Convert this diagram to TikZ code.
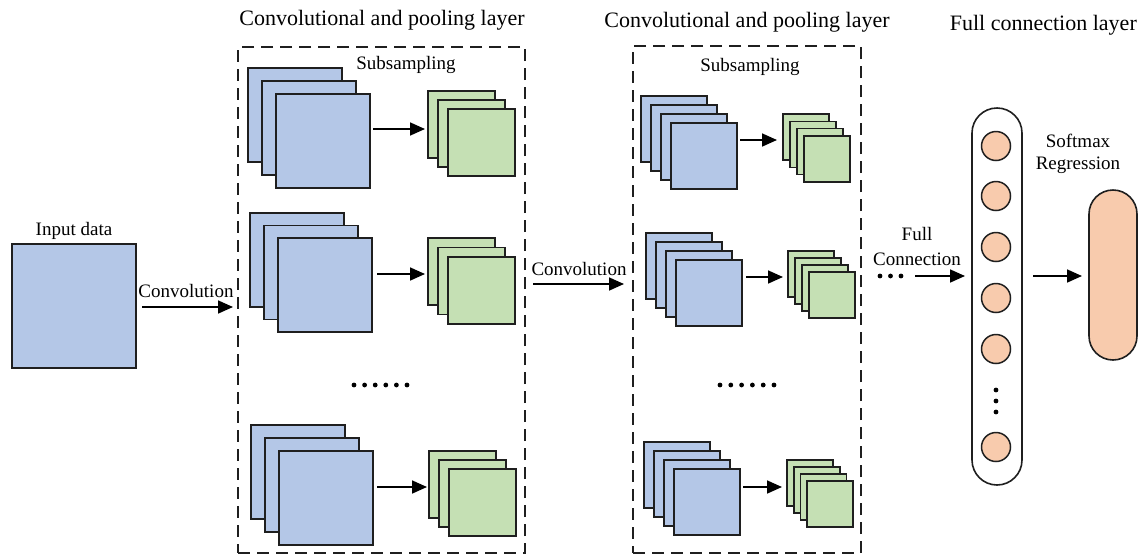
\documentclass[tikz,border=0pt]{standalone}
\usepackage{fontspec}
\setmainfont{Liberation Serif}
\usetikzlibrary{arrows.meta,calc}
\definecolor{bluef}{HTML}{B4C7E7}
\definecolor{greenf}{HTML}{C5E0B4}
\definecolor{orangef}{HTML}{F8CBAD}
\definecolor{edge}{HTML}{1F1F1F}
\begin{document}
\begin{tikzpicture}[x=1pt,y=-1pt,
  sq/.style={draw=edge, line width=1.6pt, anchor=north west, inner sep=0pt, outer sep=0pt, rectangle},
  bsq/.style={sq, fill=bluef},
  gsq/.style={sq, fill=greenf},
  arr/.style={line width=1.7pt, draw=black, -{Triangle[length=15pt,width=13pt]}},
  lbl/.style={font=\fontsize{19}{22}\selectfont, inner sep=0pt, align=center},
  ttl/.style={font=\fontsize{22}{25}\selectfont, inner sep=0pt},
  dbox/.style={draw=edge, line width=2.6pt, dash pattern=on 12pt off 7pt, rectangle, anchor=north west, inner sep=0pt, outer sep=0pt},
  neuron/.style={circle, draw=edge, line width=1.5pt, fill=orangef, minimum size=29pt, inner sep=0pt},
  dot/.style={circle, fill=black, inner sep=0pt, minimum size=4.8pt}
]
\useasboundingbox (0,0) rectangle (1138,555);

% titles
\node[ttl] (t1) at (382,20) {Convolutional and pooling layer};
\node[ttl] (t2) at (747,22) {Convolutional and pooling layer};
\node[ttl, anchor=east] (t3) at (1137,25) {Full connection layer};

% dashed boxes
\node[dbox, minimum width=287pt, minimum height=506pt] (L1) at (238,47) {};
\node[dbox, minimum width=228pt, minimum height=507pt] (L2) at (633,46) {};

% input
\node[lbl] (inlbl) at (74,231) {Input data};
\node[bsq, minimum size=124pt] (in) at (12,244) {};
\node[lbl] (conv1) at (186,291) {Convolution};
\draw[arr, shorten <=6pt, shorten >=5pt] (in.east |- 0,307) -- (L1.west |- 0,307);

% layer 1 blue stacks
\foreach \i in {1,2,3} {
  \node[bsq, minimum size=94pt] (A1\i) at ({248+14*(\i-1)},{68+13*(\i-1)}) {};
}
\foreach \i in {1,2,3} {
  \node[bsq, minimum size=94pt] (A2\i) at ({250+14*(\i-1)},{213+12.5*(\i-1)}) {};
}
\foreach \i in {1,2,3} {
  \node[bsq, minimum size=94pt] (A3\i) at ({251+14*(\i-1)},{425+13*(\i-1)}) {};
}
% layer 1 green stacks
\foreach \i in {1,2,3} {
  \node[gsq, minimum size=67pt] (G1\i) at ({428+10*(\i-1)},{91+9*(\i-1)}) {};
}
\foreach \i in {1,2,3} {
  \node[gsq, minimum size=67pt] (G2\i) at ({428+10*(\i-1)},{238+9.5*(\i-1)}) {};
}
\foreach \i in {1,2,3} {
  \node[gsq, minimum size=67pt] (G3\i) at ({429+10*(\i-1)},{451+9*(\i-1)}) {};
}
\node[lbl] (sub1) at (406,65) {Subsampling};
\draw[arr, shorten <=3pt, shorten >=3pt] (A13.east |- 0,129) -- (G11.west |- 0,129);
\draw[arr, shorten <=5pt, shorten >=3pt] (A23.east |- 0,274) -- (G21.west |- 0,274);
\draw[arr, shorten <=4pt, shorten >=2pt] (A33.east |- 0,487) -- (G31.west |- 0,487);
\foreach \k in {0,...,5} \node[dot] (d1\k) at ({354+10.6*\k},385) {};

% second convolution
\node[lbl] (conv2) at (579,269) {Convolution};
\draw[arr, shorten <=8pt, shorten >=9pt] (L1.east |- 0,284) -- (L2.west |- 0,284);

% layer 2 blue stacks
\foreach \i in {1,2,3,4} {
  \node[bsq, minimum size=66pt] (B1\i) at ({641+10*(\i-1)},{96+9*(\i-1)}) {};
}
\foreach \i in {1,2,3,4} {
  \node[bsq, minimum size=66pt] (B2\i) at ({646+10*(\i-1)},{233+9*(\i-1)}) {};
}
\foreach \i in {1,2,3,4} {
  \node[bsq, minimum size=66pt] (B3\i) at ({644+10*(\i-1)},{442+9*(\i-1)}) {};
}
% layer 2 green stacks
\foreach \i in {1,2,3,4} {
  \node[gsq, minimum size=46pt] (H1\i) at ({783+7*(\i-1)},{114+7.3*(\i-1)}) {};
}
\foreach \i in {1,2,3,4} {
  \node[gsq, minimum size=46pt] (H2\i) at ({788+7*(\i-1)},{251+7*(\i-1)}) {};
}
\foreach \i in {1,2,3,4} {
  \node[gsq, minimum size=46pt] (H3\i) at ({787+6.7*(\i-1)},{460+7*(\i-1)}) {};
}
\node[lbl] (sub2) at (750,67) {Subsampling};
\draw[arr, shorten <=3pt, shorten >=6pt] (B14.east |- 0,140) -- (H11.west |- 0,140);
\draw[arr, shorten <=4pt, shorten >=5pt] (B24.east |- 0,277) -- (H21.west |- 0,277);
\draw[arr, shorten <=3pt, shorten >=5pt] (B34.east |- 0,487) -- (H31.west |- 0,487);
\foreach \k in {0,...,5} \node[dot] (d2\k) at ({720+10.8*\k},385) {};

% full connection
\node[lbl] (fc) at (917,246) {Full\\[3pt]Connection};
\foreach \k in {0,1,2} \node[dot] (fd\k) at ({880+10.5*\k},276) {};
\coordinate (fcs) at (915,276);
\node[draw=edge, line width=1.6pt, fill=white, rounded corners=25pt, minimum width=50pt, minimum height=377pt, anchor=north west, inner sep=0pt, outer sep=0pt] (caps) at (972,108) {};
\draw[arr, shorten >=7pt] (fcs) -- (caps.west |- fcs);
\foreach \y [count=\n] in {146,196,247,298,349,447} \node[neuron] (n\n) at (996,\y) {};
\foreach \y [count=\n] in {390,401,412} \node[dot] (vd\n) at (996,\y) {};

\node[lbl] (smx) at (1078,154) {Softmax\\Regression};
\node[draw=edge, line width=1.6pt, fill=orangef, rounded corners=24pt, minimum width=48pt, minimum height=170pt, anchor=north west, inner sep=0pt, outer sep=0pt] (out) at (1089,190) {};
\draw[arr, shorten <=11pt, shorten >=7pt] (caps.east |- fcs) -- (out.west |- fcs);
\end{tikzpicture}
\end{document}
